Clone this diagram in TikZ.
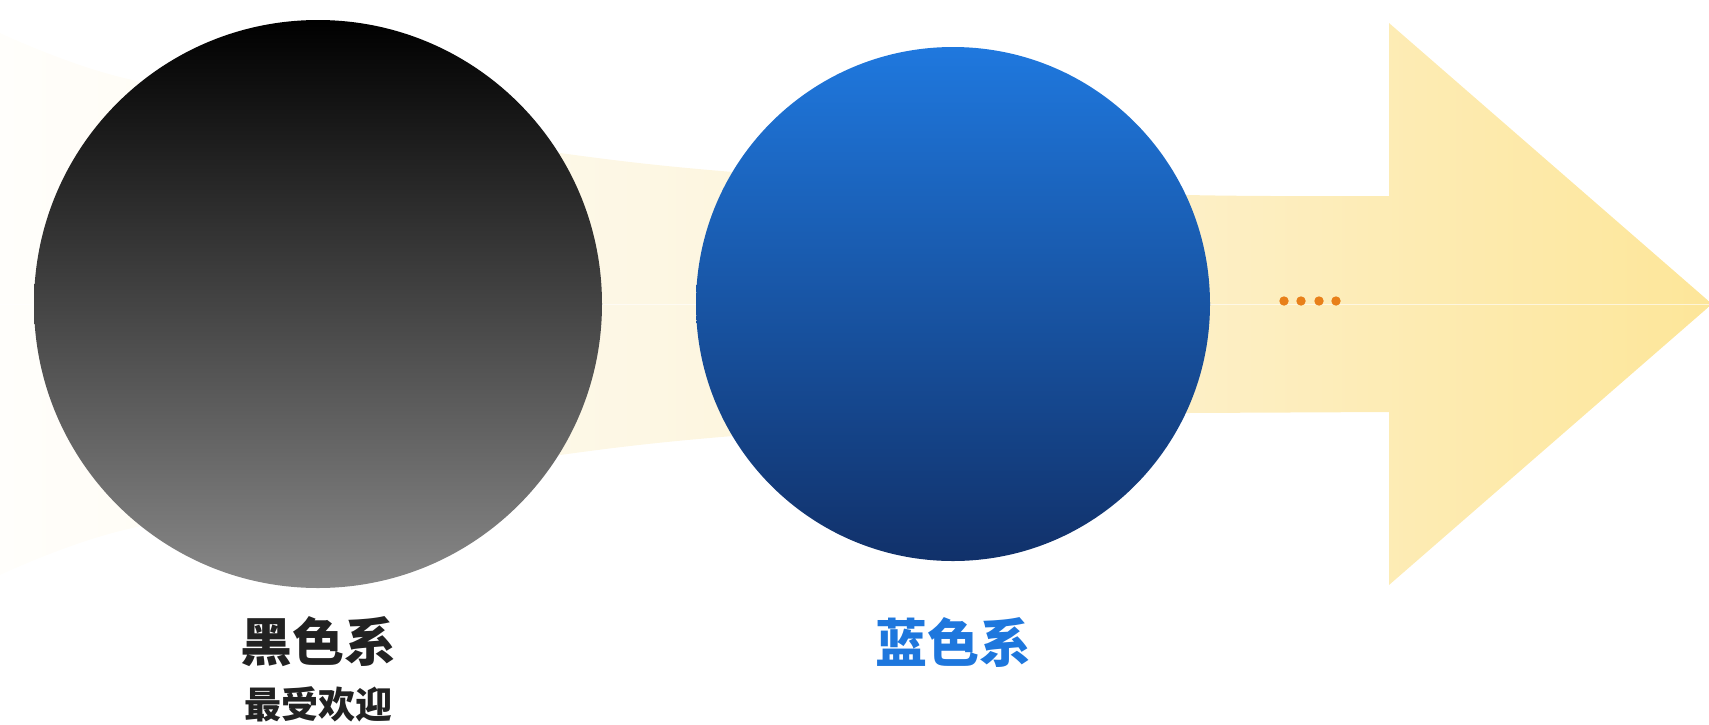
\documentclass[tikz,border=0pt]{standalone}
\usepackage{fontspec}
\newfontfamily\cjk{Noto Sans CJK SC}
\definecolor{bluetop}{HTML}{1F78DE}
\definecolor{bluebot}{HTML}{11316A}
\definecolor{graybot}{HTML}{888888}
\definecolor{txtdark}{HTML}{222222}
\definecolor{txtblue}{HTML}{1E77DD}
\definecolor{dotorange}{HTML}{E8801A}
\definecolor{aa}{HTML}{FFFEFB}
\definecolor{ab}{HTML}{FDF7E4}
\definecolor{ac}{HTML}{FDEFC5}
\definecolor{ad}{HTML}{FDE699}
\pgfdeclarehorizontalshading{arrowshade}{100bp}{color(0bp)=(aa); color(25bp)=(aa); color(43.7bp)=(ab); color(60bp)=(ac); color(75bp)=(ad); color(100bp)=(ad)}
\begin{document}
\begin{tikzpicture}[x=1pt,y=-1pt,
  ball/.style={circle,inner sep=0pt,draw=none},
  dotmark/.style={circle, fill=dotorange, inner sep=0pt, minimum size=9.4pt},
  bigtxt/.style={inner sep=0pt, font=\cjk\bfseries\fontsize{52}{52}\selectfont},
  subtxt/.style={inner sep=0pt, font=\cjk\bfseries\fontsize{37}{37}\selectfont}]
\useasboundingbox (0,0) rectangle (1709,724);
% big arrow
\shade[shading=arrowshade]
  plot[smooth, tension=0.6] coordinates {(0,33) (120,77) (340,118) (560,153) (733,172) (960,186) (1188,195) (1389,196)}
  -- (1389,23) -- (1712,304) -- (1389,585) -- (1389,412)
  -- plot[smooth, tension=0.6] coordinates {(1188,413) (960,422) (733,436) (560,455) (340,490) (120,531) (0,575)} -- cycle;
\draw[white, opacity=0.6, line width=0.8pt] (0,304) -- (1709,304);
% circles
\node[ball, minimum size=568pt, top color=black, bottom color=graybot] (blackball) at (318,304) {};
\node[ball, minimum size=514pt, top color=bluetop, bottom color=bluebot] (blueball) at (953,304) {};
% dots
\foreach \x [count=\i] in {1284,1301,1319,1336}
  \node[dotmark] (d\i) at (\x,301) {};
% labels
\node[bigtxt, text=txtdark] (t1) at (318,642) {黑色系};
\node[subtxt, text=txtdark] (t2) at (318,704) {最受欢迎};
\node[bigtxt, text=txtblue] (t3) at (953,642) {蓝色系};
\end{tikzpicture}
\end{document}
